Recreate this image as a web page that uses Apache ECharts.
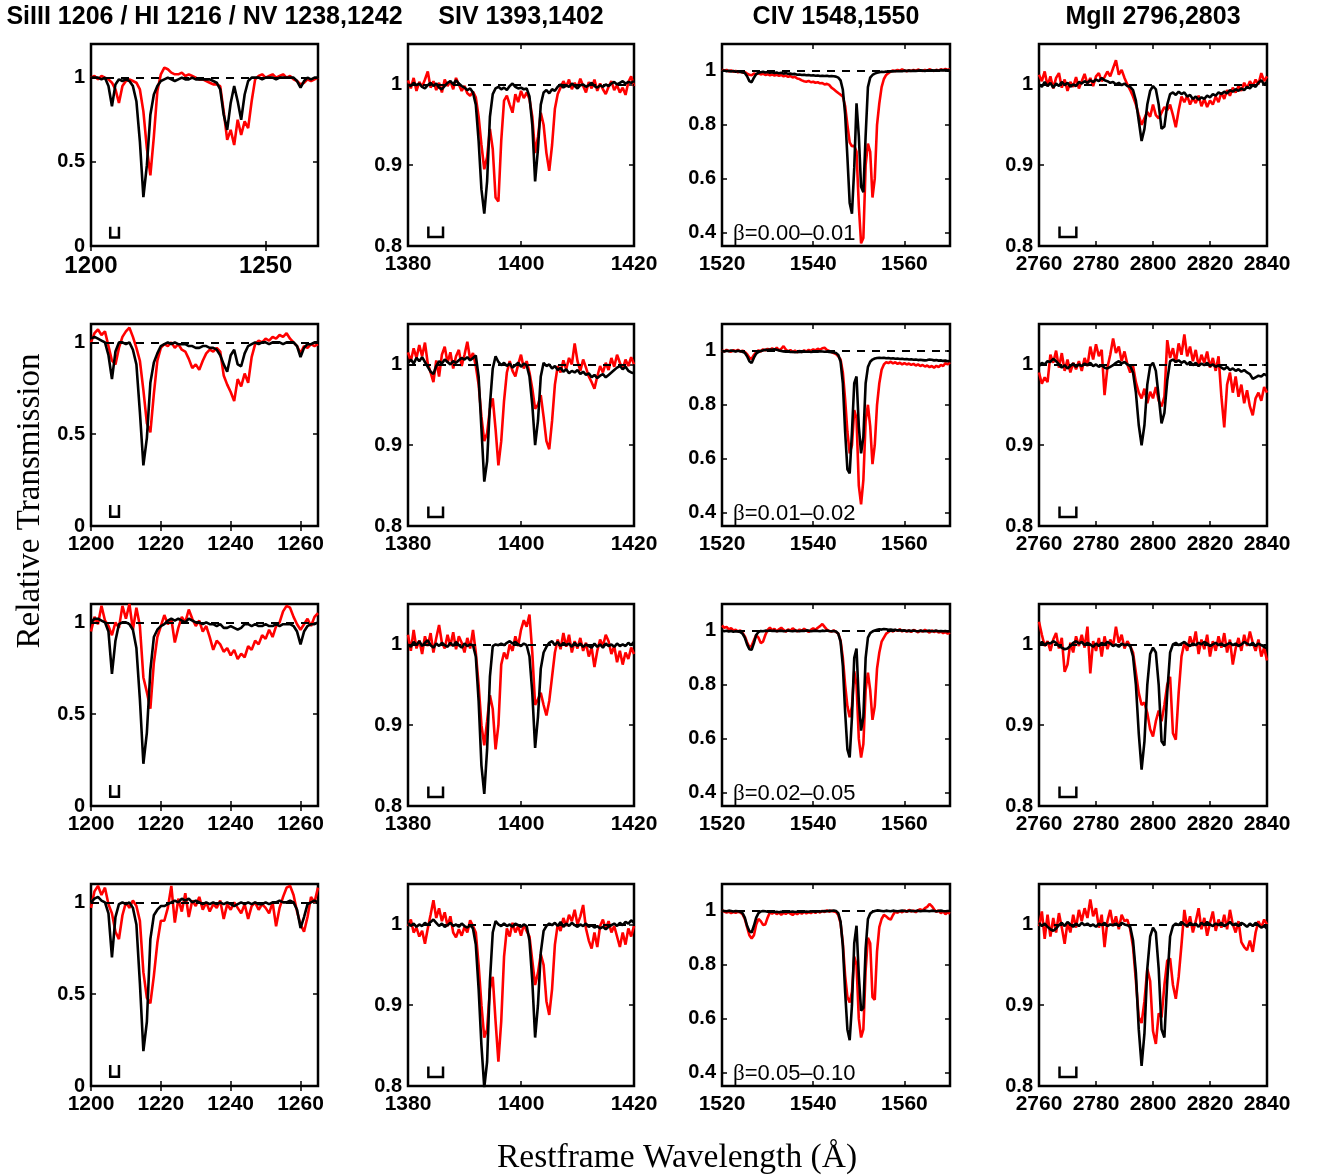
<!DOCTYPE html>
<html>
<head>
<meta charset="utf-8">
<script src="https://cdn.jsdelivr.net/npm/echarts@6/dist/echarts.min.js"></script>
<style>
  html, body { margin: 0; padding: 0; background: #fff; }
  #chart { width: 1317px; height: 1175px; }
</style>
</head>
<body>
<div id="chart"></div>
<script>
// wavelength grids (Å) of the four transitions
const SI_WAVE = wavelengths(1200, 1, 66);
const SIV_WAVE = wavelengths(1380, 0.5, 81);
const CIV_WAVE = wavelengths(1520, 0.5, 101);
const MG_WAVE = wavelengths(2760, 1, 81);

const TITLES = ['SiIII 1206 / HI 1216 / NV 1238,1242', 'SIV 1393,1402', 'CIV 1548,1550', 'MgII 2796,2803'];
const BETA_LABELS = ['0.00–0.01', '0.01–0.02', '0.02–0.05', '0.05–0.10'];

const X_RANGE = [[1200, 1265], [1380, 1420], [1520, 1570], [2760, 2840]];
const SI_YMAX = [1.2, 1.1, 1.1, 1.1];
const Y_RANGE = [[0, 1.1], [0.8, 1.05], [0.35, 1.1], [0.8, 1.05]];

const SI_XTICKS_FIRST = [1200, 1250];
const X_TICKS = [[1200, 1220, 1240, 1260], [1380, 1400, 1420], [1520, 1540, 1560], [2760, 2780, 2800, 2820, 2840]];
const Y_TICKS = [[0, 0.5, 1], [0.8, 0.9, 1], [0.4, 0.6, 0.8, 1], [0.8, 0.9, 1]];

// resolution brackets (x from-to, y from-to); CIV has none
const BRACKET_X = [[1205.5, 1208], [1383.6, 1386.2], null, [2767.2, 2773.1]];
const BRACKET_Y = [[0.05, 0.115], [0.811, 0.824], null, [0.811, 0.824]];

// ---- SiIII / HI / NV, 1200..1265 ----
const SI_BLACK_1 = [
  1.00,1.00,1.00,0.99,1.00,0.95,0.83,0.96,0.99,0.98,
  0.99,0.98,0.95,0.86,0.62,0.29,0.48,0.78,0.90,0.95,
  0.98,0.99,1.00,0.99,0.98,0.99,1.00,0.99,0.99,1.00,
  0.99,0.99,0.99,0.99,0.99,0.98,0.97,0.93,0.78,0.69,
  0.85,0.95,0.86,0.75,0.90,0.98,1.00,1.00,1.00,0.99,
  1.00,1.00,1.00,0.99,1.00,1.00,1.00,1.00,1.00,0.98,
  0.94,0.98,1.00,0.99,1.00,1.00];
const SI_RED_1 = [
  1.00,1.01,0.99,1.01,1.00,0.99,0.97,0.93,0.85,0.95,
  0.98,0.99,0.98,0.97,0.93,0.80,0.58,0.42,0.65,0.92,
  1.02,1.06,1.05,1.03,1.02,1.02,1.03,1.01,1.02,1.01,
  1.00,0.99,0.99,0.98,0.97,0.96,0.96,0.95,0.80,0.63,
  0.69,0.60,0.75,0.66,0.74,0.70,0.86,0.99,1.01,1.02,
  1.00,1.01,1.02,1.00,1.01,1.02,1.00,1.01,0.99,0.98,
  0.96,0.97,0.99,0.98,0.99,1.00];
const SI_BLACK_2 = [
  1.02,1.03,1.02,1.01,1.00,0.93,0.80,0.95,1.00,1.00,
  0.99,1.00,0.96,0.88,0.62,0.33,0.48,0.78,0.89,0.94,
  0.98,0.99,1.00,0.99,1.00,0.99,0.99,0.99,0.98,0.98,
  0.97,0.97,0.98,0.98,0.97,0.97,0.96,0.93,0.88,0.84,
  0.93,0.96,0.88,0.87,0.94,0.98,0.99,1.00,0.99,1.00,
  1.00,0.99,1.00,1.00,1.00,0.99,1.00,1.00,1.00,0.98,
  0.92,0.97,0.99,0.99,1.00,1.00];
const SI_RED_2 = [
  1.00,1.05,1.07,1.04,1.06,0.98,0.90,0.88,0.97,1.03,
  1.06,1.08,1.03,0.97,0.90,0.74,0.56,0.51,0.72,0.90,
  0.97,0.99,0.98,1.00,0.97,0.99,0.96,0.95,0.91,0.86,
  0.88,0.85,0.90,0.94,0.96,0.95,0.97,0.95,0.82,0.77,
  0.73,0.68,0.80,0.76,0.83,0.78,0.92,0.99,1.01,1.00,
  1.02,1.01,1.03,1.02,1.04,1.03,1.05,1.02,1.00,0.98,
  0.94,0.98,0.97,0.99,0.98,0.99];
const SI_BLACK_3 = [
  1.00,1.02,1.02,1.01,1.00,0.95,0.72,0.90,0.99,1.00,
  1.00,0.99,0.96,0.86,0.58,0.23,0.40,0.74,0.92,0.96,
  0.98,0.99,1.01,1.02,1.01,1.02,1.01,1.00,1.02,1.01,
  1.00,1.00,0.99,1.00,0.99,0.99,0.98,0.99,0.97,0.97,
  0.98,0.97,0.96,0.97,0.99,0.99,0.98,0.99,0.98,0.98,
  0.99,0.98,0.98,0.99,0.98,0.99,0.99,0.99,0.98,0.95,
  0.88,0.95,0.98,0.99,0.99,1.00];
const SI_RED_3 = [
  0.95,1.03,0.99,1.09,1.01,0.98,0.93,1.00,0.97,1.09,
  1.02,1.10,0.96,1.08,0.98,0.70,0.62,0.53,0.78,0.92,
  0.98,1.04,0.99,1.02,0.89,0.97,1.03,1.00,1.07,1.02,
  0.98,1.01,0.95,0.98,0.92,0.85,0.90,0.88,0.84,0.86,
  0.82,0.85,0.80,0.83,0.81,0.87,0.85,0.90,0.88,0.93,
  0.91,0.96,0.92,0.98,1.00,1.06,1.09,1.08,1.03,0.99,
  0.96,0.99,1.02,0.98,1.03,1.05];
const SI_BLACK_4 = [
  1.00,1.02,1.03,1.01,1.00,0.94,0.70,0.92,0.99,1.00,
  0.99,1.00,0.97,0.88,0.56,0.19,0.35,0.80,0.93,0.96,
  0.98,0.98,0.99,1.00,1.01,1.00,1.02,1.01,1.02,1.00,
  1.01,1.00,0.99,1.00,0.99,1.00,0.99,1.00,0.99,1.00,
  0.99,0.98,0.99,1.00,0.99,1.00,0.99,1.00,0.99,0.99,
  1.00,0.99,1.00,1.00,1.01,1.00,1.00,1.01,1.00,0.96,
  0.86,0.92,0.99,1.00,1.01,1.00];
const SI_RED_4 = [
  0.97,1.06,1.09,1.04,1.08,0.99,0.94,0.84,0.80,0.93,
  1.00,0.97,1.01,0.98,0.90,0.62,0.48,0.45,0.60,0.78,
  0.90,0.90,0.97,1.09,0.89,1.02,0.95,1.05,0.92,1.01,
  0.98,1.03,0.96,1.00,0.95,0.99,0.97,1.01,0.91,0.99,
  0.96,1.00,0.97,0.94,0.99,0.91,0.98,1.00,0.96,0.99,
  0.97,0.94,1.00,0.87,0.97,1.03,1.08,1.09,1.04,0.95,
  0.88,0.84,0.92,1.03,1.00,1.08];

// ---- SiIV, 1380..1420 ----
const SIV_BLACK_1 = [
  1.000,0.998,1.002,0.999,1.001,0.997,0.995,0.999,1.002,0.998,
  1.001,0.996,0.994,0.998,1.002,1.004,1.000,1.005,1.001,0.998,
  0.996,0.993,0.995,0.990,0.975,0.930,0.870,0.840,0.880,0.960,
  0.988,0.995,0.997,0.994,0.996,0.993,0.998,1.001,0.997,0.995,
  0.996,0.994,0.995,0.985,0.950,0.880,0.920,0.975,0.990,0.993,
  0.989,0.994,0.992,0.997,1.000,0.996,0.999,0.997,1.001,0.998,
  0.995,0.999,1.000,0.997,0.999,1.002,0.998,0.996,0.999,0.997,
  1.000,0.998,1.001,1.003,1.000,1.002,1.004,1.001,1.003,1.002,
  1.004];
const SIV_RED_1 = [
  1.005,0.995,1.008,0.992,1.003,0.997,1.006,1.016,0.996,1.004,
  0.993,1.002,0.990,1.006,0.998,1.004,0.994,1.008,1.000,0.992,
  0.998,0.989,0.986,0.991,0.984,0.960,0.925,0.895,0.910,0.945,
  0.920,0.860,0.855,0.930,0.980,0.986,0.975,0.965,0.988,0.978,
  0.992,0.983,0.990,0.982,0.960,0.915,0.935,0.965,0.950,0.915,
  0.893,0.925,0.970,0.988,0.996,1.004,0.997,1.006,0.994,1.002,
  0.996,1.007,0.998,0.990,1.003,0.995,1.006,0.992,1.001,0.994,
  0.988,0.997,1.004,0.993,0.999,0.990,0.996,0.987,1.003,1.010,
  0.998];
const SIV_BLACK_2 = [
  1.002,1.006,1.001,1.008,1.004,1.009,1.003,0.997,0.991,0.988,
  0.998,1.004,1.001,1.006,1.003,1.000,1.004,1.002,1.005,1.008,
  1.006,1.009,1.005,1.008,1.011,0.985,0.920,0.855,0.880,0.950,
  0.995,1.010,1.003,0.999,1.002,0.998,1.001,0.996,0.999,1.002,
  0.997,1.001,0.999,0.985,0.950,0.900,0.930,0.985,1.002,0.998,
  1.000,0.995,0.998,0.993,0.996,0.991,0.994,0.989,0.992,0.990,
  0.993,0.988,0.991,0.987,0.989,0.984,0.987,0.983,0.986,0.988,
  0.984,0.987,0.990,0.993,0.996,0.998,0.994,0.997,0.992,0.990,
  0.989];
const SIV_RED_2 = [
  1.015,1.004,1.020,1.008,1.024,1.010,1.027,1.001,0.990,0.978,
  1.005,0.985,1.012,1.022,1.002,1.015,0.995,1.010,1.018,0.998,
  1.012,1.028,1.006,1.014,0.998,0.975,0.935,0.905,0.915,0.945,
  0.958,0.920,0.875,0.905,0.955,0.990,1.004,0.992,0.985,1.000,
  1.012,0.995,1.004,0.990,0.970,0.945,0.950,0.962,0.935,0.905,
  0.895,0.930,0.975,0.998,0.990,1.005,0.994,1.008,1.000,1.026,
  1.004,0.992,1.006,0.996,0.985,0.978,0.970,0.985,0.998,0.990,
  1.002,0.993,1.008,0.997,1.012,1.002,0.994,1.006,0.998,1.009,
  1.000];
const SIV_BLACK_3 = [
  1.000,0.997,1.003,0.999,1.004,0.998,1.002,1.005,0.999,0.996,
  1.001,0.998,1.002,0.999,0.997,1.002,0.998,1.003,0.999,0.996,
  1.001,0.998,1.000,0.999,0.985,0.930,0.850,0.815,0.870,0.960,
  0.998,1.000,0.999,1.001,0.999,1.002,1.004,1.001,1.003,1.000,
  0.998,1.001,0.999,0.985,0.940,0.872,0.910,0.970,0.990,0.997,
  1.002,1.004,0.999,1.003,0.998,1.002,0.999,1.001,0.997,1.002,
  0.998,1.001,0.997,1.000,0.998,0.996,1.001,0.997,1.000,0.996,
  1.001,0.998,1.000,0.997,1.001,0.998,1.000,0.998,1.002,0.999,
  1.003];
const SIV_RED_3 = [
  1.012,0.992,1.018,0.995,1.005,0.988,1.010,0.998,1.014,0.990,
  1.008,1.024,1.002,0.995,1.012,0.998,1.015,0.994,1.010,1.002,
  0.990,1.008,0.995,1.018,0.990,0.950,0.900,0.875,0.905,0.937,
  0.920,0.870,0.900,0.975,0.990,0.982,1.000,0.992,1.010,0.998,
  1.018,1.030,1.022,1.037,0.990,0.925,0.932,0.940,0.925,0.912,
  0.930,0.960,0.990,1.006,0.994,1.014,0.997,1.012,0.990,1.004,
  0.995,1.008,0.992,1.002,0.985,0.996,0.972,0.992,1.006,0.998,
  1.012,1.004,0.988,0.998,0.978,0.992,0.975,0.990,0.982,0.996,
  0.988];
const SIV_BLACK_4 = [
  1.002,0.998,1.001,0.997,1.000,0.998,1.002,0.999,1.003,1.006,
  1.002,0.998,1.001,0.997,0.999,1.002,0.998,1.000,0.997,1.001,
  0.998,0.996,0.999,0.995,0.975,0.920,0.850,0.798,0.830,0.930,
  0.990,1.004,1.000,0.998,1.001,0.998,1.000,0.997,1.001,0.999,
  0.997,1.000,0.998,0.980,0.930,0.860,0.900,0.965,0.992,0.998,
  1.001,0.999,1.002,0.998,1.003,0.997,1.001,0.998,1.002,0.999,
  0.997,1.000,0.998,1.001,0.997,0.999,0.996,0.998,0.995,0.997,
  0.994,0.997,0.999,1.001,0.998,1.002,0.999,1.003,1.001,1.005,
  1.002];
const SIV_RED_4 = [
  0.998,1.006,0.990,0.996,0.985,0.992,0.976,0.995,1.012,1.030,
  1.008,1.020,1.004,1.015,0.998,1.010,0.990,0.984,0.994,0.986,
  0.997,0.990,1.005,0.998,0.990,0.950,0.900,0.860,0.870,0.920,
  0.935,0.880,0.830,0.880,0.960,0.995,0.985,1.002,0.990,0.998,
  0.986,1.000,0.992,0.985,0.955,0.925,0.940,0.963,0.950,0.905,
  0.888,0.920,0.975,1.000,0.992,1.008,0.998,1.012,1.004,1.018,
  1.000,1.010,1.024,0.995,0.980,0.970,0.990,0.972,0.998,1.006,
  0.994,1.004,0.990,0.998,0.985,0.972,0.990,0.975,0.995,0.985,
  0.998];

// ---- CIV, 1520..1570 ----
const CIV_BLACK_1 = [
  1.000,1.002,0.999,1.001,0.998,1.000,0.997,0.999,0.996,0.995,
  0.992,0.980,0.962,0.958,0.975,0.988,0.993,0.995,0.997,0.994,
  0.996,0.993,0.995,0.992,0.994,0.991,0.993,0.990,0.992,0.989,
  0.990,0.988,0.989,0.986,0.987,0.985,0.986,0.984,0.985,0.983,
  0.984,0.982,0.983,0.981,0.982,0.981,0.982,0.980,0.981,0.980,
  0.979,0.975,0.965,0.930,0.840,0.680,0.510,0.470,0.640,0.880,
  0.760,0.570,0.550,0.760,0.940,0.975,0.985,0.990,0.993,0.995,
  0.997,0.996,0.998,0.997,0.999,0.998,1.000,0.999,1.000,0.999,
  1.001,1.000,1.001,1.000,1.001,1.000,1.001,1.002,1.001,1.000,
  1.002,1.001,1.002,1.001,1.002,1.001,1.003,1.002,1.003,1.002,
  1.003];
const CIV_RED_1 = [
  1.005,1.000,1.004,0.998,1.002,0.997,1.000,0.995,0.998,0.994,
  0.996,0.990,0.986,0.984,0.990,0.988,0.991,0.987,0.990,0.985,
  0.988,0.984,0.987,0.983,0.986,0.982,0.985,0.980,0.983,0.978,
  0.981,0.976,0.978,0.972,0.970,0.965,0.962,0.960,0.963,0.958,
  0.960,0.956,0.958,0.954,0.955,0.950,0.952,0.948,0.938,0.932,
  0.925,0.918,0.912,0.905,0.870,0.800,0.735,0.720,0.722,0.700,
  0.500,0.360,0.380,0.650,0.730,0.700,0.530,0.600,0.800,0.880,
  0.940,0.970,0.985,0.992,0.998,1.002,0.999,1.004,1.000,1.006,
  1.002,0.999,1.003,1.000,1.004,1.001,1.005,1.002,1.000,1.004,
  1.001,1.006,1.003,1.000,1.004,1.002,1.006,1.003,1.007,1.004,
  1.006];
const CIV_BLACK_2 = [
  1.000,0.998,1.001,0.999,1.002,1.000,0.998,1.001,0.999,0.997,
  0.993,0.980,0.962,0.955,0.975,0.990,0.996,1.000,1.002,1.004,
  1.003,1.005,1.004,1.006,1.004,1.002,1.000,0.998,0.997,0.998,
  0.996,0.997,0.995,0.996,0.997,0.996,0.998,0.997,0.998,0.996,
  0.997,0.998,0.997,0.999,0.998,0.997,0.998,0.996,0.995,0.994,
  0.992,0.985,0.960,0.880,0.700,0.560,0.545,0.700,0.880,0.905,
  0.720,0.620,0.680,0.880,0.940,0.960,0.968,0.972,0.974,0.975,
  0.974,0.975,0.973,0.974,0.972,0.973,0.971,0.972,0.970,0.971,
  0.969,0.970,0.968,0.969,0.967,0.968,0.966,0.967,0.966,0.965,
  0.966,0.968,0.967,0.965,0.966,0.964,0.965,0.963,0.964,0.962,
  0.963];
const CIV_RED_2 = [
  1.002,0.998,1.004,1.000,0.997,1.003,0.999,1.004,0.998,1.001,
  0.996,0.988,0.975,0.970,0.985,0.996,1.002,0.998,1.006,1.002,
  1.008,1.003,1.010,1.004,1.012,1.002,1.008,1.018,1.005,0.998,
  1.003,0.996,1.001,0.995,1.000,0.996,1.002,0.998,1.004,1.000,
  1.006,1.002,1.008,1.004,1.010,1.012,1.004,1.000,0.996,0.992,
  0.988,0.980,0.968,0.920,0.820,0.700,0.620,0.650,0.780,0.750,
  0.500,0.430,0.520,0.740,0.800,0.720,0.580,0.650,0.800,0.880,
  0.930,0.950,0.958,0.955,0.960,0.954,0.958,0.952,0.956,0.950,
  0.955,0.950,0.953,0.948,0.952,0.946,0.950,0.944,0.948,0.942,
  0.946,0.940,0.944,0.938,0.945,0.940,0.948,0.944,0.955,0.950,
  0.958];
const CIV_BLACK_3 = [
  1.002,0.999,1.001,0.998,1.000,0.997,0.999,0.998,0.996,0.990,
  0.975,0.950,0.932,0.930,0.955,0.985,0.996,1.000,0.999,1.001,
  1.000,1.002,1.000,1.001,0.999,1.000,1.001,0.999,1.000,1.002,
  1.000,0.999,1.001,1.000,0.999,1.001,1.000,1.002,1.001,0.999,
  1.000,1.001,1.000,0.999,1.001,1.000,1.002,1.000,0.999,1.000,
  0.998,0.990,0.960,0.870,0.700,0.560,0.530,0.680,0.900,0.935,
  0.740,0.630,0.680,0.900,0.975,0.992,0.998,1.002,1.004,1.006,
  1.005,1.007,1.006,1.004,1.005,1.003,1.004,1.002,1.003,1.001,
  1.002,1.000,1.001,1.000,1.002,1.000,0.999,1.001,1.000,0.999,
  1.000,1.001,0.999,1.000,1.001,0.999,1.000,0.999,1.000,0.998,
  0.999];
const CIV_RED_3 = [
  1.020,1.012,1.015,1.006,1.010,1.002,1.004,0.998,1.002,0.994,
  0.980,0.958,0.940,0.945,0.965,0.985,0.975,0.955,0.960,0.985,
  1.004,1.012,1.002,1.008,0.998,1.006,1.012,1.004,0.997,1.006,
  1.000,1.010,1.003,0.998,1.005,1.000,1.008,1.002,0.996,1.004,
  1.010,1.004,1.012,1.018,1.026,1.015,1.005,1.000,0.998,1.002,
  0.996,0.990,0.965,0.900,0.800,0.720,0.680,0.720,0.850,0.800,
  0.600,0.530,0.580,0.780,0.845,0.780,0.670,0.720,0.860,0.920,
  0.960,0.975,0.990,0.996,1.002,0.998,1.004,1.000,1.006,0.998,
  1.003,0.997,1.002,0.996,1.004,1.000,0.995,1.002,0.997,1.004,
  0.999,0.994,1.002,0.996,1.001,0.994,0.998,0.992,0.996,0.990,
  0.994];
const CIV_BLACK_4 = [
  1.001,1.000,0.999,1.001,1.000,0.998,1.000,0.999,0.997,0.992,
  0.975,0.945,0.925,0.920,0.945,0.975,0.992,0.998,1.000,0.999,
  0.997,0.996,0.998,0.996,0.997,0.995,0.997,0.996,0.998,0.996,
  0.997,0.998,0.996,0.997,0.998,0.996,0.997,0.998,0.997,0.999,
  0.998,0.997,0.999,0.998,0.999,1.000,0.999,1.001,1.000,1.002,
  1.000,0.992,0.960,0.870,0.700,0.560,0.520,0.650,0.880,0.945,
  0.760,0.630,0.640,0.860,0.970,0.990,0.997,1.000,1.002,1.001,
  1.000,0.999,1.001,1.000,0.999,1.001,1.000,0.999,1.000,1.001,
  1.000,0.999,1.000,1.001,0.999,1.000,1.001,0.999,1.000,1.001,
  1.000,0.999,1.001,1.000,0.999,1.000,1.001,1.000,0.999,1.000,
  1.000];
const CIV_RED_4 = [
  1.002,0.998,0.994,0.997,0.992,0.996,0.993,0.997,0.994,0.988,
  0.970,0.940,0.910,0.898,0.910,0.950,0.970,0.962,0.948,0.950,
  0.975,0.995,0.990,0.996,0.988,0.994,0.986,0.993,0.989,0.996,
  0.990,0.985,0.993,0.988,0.995,0.990,0.997,0.991,0.996,0.992,
  0.998,0.993,0.999,0.994,1.000,0.996,1.002,0.997,1.001,0.998,
  0.996,0.985,0.955,0.880,0.760,0.680,0.660,0.700,0.830,0.800,
  0.600,0.530,0.560,0.780,0.900,0.880,0.680,0.670,0.850,0.940,
  0.970,0.985,0.980,0.972,0.968,0.985,0.998,0.993,1.000,0.995,
  1.002,0.996,1.004,0.998,1.002,0.995,1.003,1.006,1.002,1.010,
  1.015,1.026,1.018,1.006,0.996,1.002,0.992,0.998,0.988,0.995,
  0.990];

// ---- MgII, 2760..2840 ----
const MG_BLACK_1 = [
  1.000,0.997,1.003,0.998,1.002,0.996,1.001,0.998,1.003,0.999,
  1.002,0.997,1.000,0.998,1.003,1.001,1.004,1.002,1.005,1.003,
  1.006,1.004,1.008,1.005,1.004,1.002,1.003,1.000,1.002,0.999,
  1.001,0.998,0.997,0.993,0.980,0.955,0.930,0.945,0.975,0.992,
  0.998,0.994,0.975,0.945,0.948,0.975,0.988,0.990,0.987,0.991,
  0.988,0.990,0.985,0.987,0.982,0.985,0.981,0.984,0.982,0.986,
  0.984,0.988,0.986,0.990,0.988,0.991,0.989,0.993,0.991,0.994,
  0.992,0.995,0.993,0.997,0.995,0.999,0.997,1.002,1.005,1.000,
  1.003];
const MG_RED_1 = [
  1.012,1.004,1.016,0.998,1.010,0.995,1.008,1.014,0.996,1.006,
  0.992,1.003,0.997,1.009,0.995,1.004,1.013,1.000,1.008,0.998,
  1.010,1.014,1.004,1.009,1.016,1.010,1.020,1.030,1.012,1.018,
  1.008,1.000,0.993,0.985,0.975,0.962,0.950,0.958,0.966,0.960,
  0.975,0.962,0.958,0.965,0.972,0.968,0.975,0.962,0.947,0.968,
  0.985,0.978,0.986,0.975,0.983,0.977,0.986,0.973,0.982,0.972,
  0.980,0.975,0.985,0.978,0.990,0.982,0.993,0.986,0.996,0.990,
  0.998,0.992,1.002,0.995,1.004,0.998,1.006,1.000,1.014,1.004,
  1.010];
const MG_BLACK_2 = [
  0.998,1.002,1.000,1.004,1.003,1.007,1.004,1.000,0.996,0.999,
  0.995,0.998,1.001,0.997,1.000,0.998,1.001,0.999,1.002,0.998,
  1.000,0.997,0.999,0.996,0.995,0.997,0.999,1.002,1.004,1.001,
  1.003,1.000,0.998,0.990,0.965,0.925,0.900,0.925,0.975,0.998,
  1.002,0.992,0.960,0.927,0.940,0.980,1.004,1.006,1.003,1.005,
  1.002,1.004,1.000,1.003,0.999,1.002,0.998,1.001,0.999,1.002,
  0.998,1.000,0.997,0.999,0.996,0.994,0.997,0.993,0.995,0.992,
  0.994,0.991,0.993,0.990,0.988,0.982,0.984,0.986,0.985,0.988,
  0.986];
const MG_RED_2 = [
  0.990,0.976,0.984,0.978,1.012,1.002,1.017,0.996,1.014,0.992,
  1.006,0.990,1.002,0.994,1.004,0.992,1.008,0.998,1.022,1.006,
  1.025,1.010,1.018,0.962,0.996,1.012,1.032,1.014,1.022,1.004,
  1.016,1.000,0.990,0.998,0.978,0.965,0.958,0.970,0.952,0.966,
  0.958,0.972,0.955,0.948,0.960,1.030,1.008,1.020,1.002,1.026,
  1.012,1.037,1.010,1.022,1.004,1.018,0.998,1.012,1.002,1.016,
  0.996,1.008,0.992,1.010,0.960,0.922,0.975,0.990,0.965,0.985,
  0.960,0.975,0.952,0.968,0.948,0.937,0.958,0.965,0.955,0.972,
  0.965];
const MG_BLACK_3 = [
  1.000,1.003,0.999,1.002,1.001,1.004,1.002,0.998,0.996,0.994,
  0.995,0.998,1.002,1.004,1.001,1.003,0.999,1.002,1.000,0.997,
  1.001,0.998,1.002,1.000,1.003,1.001,0.998,1.000,0.997,1.001,
  0.999,1.000,0.998,0.985,0.950,0.890,0.845,0.880,0.950,0.988,
  0.996,0.990,0.950,0.880,0.875,0.940,0.990,1.000,1.002,0.999,
  1.001,1.003,1.000,0.998,1.001,0.999,1.002,1.000,1.003,1.001,
  0.998,1.000,1.002,0.999,1.001,0.998,1.000,1.002,0.999,1.001,
  0.998,1.000,1.003,1.001,0.999,1.002,0.998,1.001,0.999,0.997,
  0.995];
const MG_RED_3 = [
  1.028,1.012,0.998,1.004,0.992,1.006,1.014,0.995,1.008,0.966,
  0.975,1.002,0.990,1.010,0.998,1.012,0.996,1.022,0.964,1.004,
  0.992,1.008,0.985,1.010,0.994,1.006,0.998,1.022,1.002,1.012,
  0.995,1.004,0.998,0.990,0.965,0.940,0.925,0.928,0.915,0.895,
  0.886,0.905,0.918,0.905,0.925,0.950,0.960,0.890,0.882,0.940,
  0.985,1.002,0.992,1.010,0.998,1.016,0.988,1.006,0.994,1.012,
  0.985,1.004,0.992,1.010,0.996,1.014,0.990,1.006,0.975,0.995,
  1.008,0.992,1.012,0.998,1.016,1.002,0.992,1.006,0.985,0.996,
  0.980];
const MG_BLACK_4 = [
  1.002,0.998,1.001,0.997,0.994,0.992,0.995,0.999,1.002,0.998,
  1.003,1.000,0.997,1.001,0.998,1.002,0.999,1.001,0.998,1.000,
  0.997,1.001,0.999,1.002,0.998,1.000,0.999,1.001,0.998,1.002,
  1.000,0.999,0.997,0.980,0.940,0.870,0.825,0.865,0.945,0.985,
  0.996,0.990,0.945,0.870,0.860,0.930,0.985,0.998,1.001,0.999,
  1.003,1.000,0.998,1.002,0.999,1.001,0.997,1.002,0.999,1.003,
  1.000,0.998,1.001,0.999,1.002,0.998,1.000,1.003,0.999,1.001,
  0.998,1.002,1.000,0.997,1.001,0.998,1.002,0.999,0.996,0.998,
  0.995];
const MG_RED_4 = [
  0.998,1.016,0.982,1.012,0.985,1.008,0.990,1.014,0.996,0.976,
  1.002,0.990,1.012,0.996,1.018,1.004,1.020,1.008,1.031,1.010,
  1.020,0.996,1.012,0.972,1.004,1.018,0.998,1.010,0.994,1.012,
  1.004,1.006,0.994,0.972,0.930,0.885,0.878,0.905,0.945,0.930,
  0.868,0.852,0.890,0.885,0.925,0.955,0.958,0.925,0.908,0.935,
  0.975,1.018,0.996,1.010,0.990,1.004,1.020,0.994,1.008,0.986,
  1.002,1.016,0.992,1.006,0.996,1.012,0.994,1.018,1.000,0.990,
  1.004,0.978,0.972,0.968,0.980,0.966,0.990,1.004,0.996,1.006,
  1.000];

function wavelengths(start, step, n) {
  const out = [];
  for (let i = 0; i < n; i++) out.push(+(start + i * step).toFixed(2));
  return out;
}

const WAVES = [SI_WAVE, SIV_WAVE, CIV_WAVE, MG_WAVE];
const BLACK = [
  [SI_BLACK_1, SIV_BLACK_1, CIV_BLACK_1, MG_BLACK_1],
  [SI_BLACK_2, SIV_BLACK_2, CIV_BLACK_2, MG_BLACK_2],
  [SI_BLACK_3, SIV_BLACK_3, CIV_BLACK_3, MG_BLACK_3],
  [SI_BLACK_4, SIV_BLACK_4, CIV_BLACK_4, MG_BLACK_4]
];
const RED = [
  [SI_RED_1, SIV_RED_1, CIV_RED_1, MG_RED_1],
  [SI_RED_2, SIV_RED_2, CIV_RED_2, MG_RED_2],
  [SI_RED_3, SIV_RED_3, CIV_RED_3, MG_RED_3],
  [SI_RED_4, SIV_RED_4, CIV_RED_4, MG_RED_4]
];

// layout
const COL_LEFT = [91, 408, 722, 1039];
const COL_WIDTH = [227, 226, 228, 228];
const ROW_TOP = [44, 324, 604, 884];
const PANEL_H = 202;
const SANS = '"Liberation Sans", Arial, sans-serif';
const SERIF = '"Liberation Serif", "Times New Roman", serif';

function zip(xs, ys) {
  return xs.map((x, i) => [x, ys[i]]);
}

const chart = echarts.init(document.getElementById('chart'), null, { renderer: 'canvas' });

const grids = [], xAxes = [], yAxes = [], series = [], graphics = [];

const tick = (values) => ({
  inside: true, length: 5, customValues: values,
  lineStyle: { color: '#000', width: 1.5 }
});
const plain = (v) => String(v);

for (let r = 0; r < 4; r++) {
  for (let c = 0; c < 4; c++) {
    const g = grids.length;
    grids.push({
      left: COL_LEFT[c], top: ROW_TOP[r], width: COL_WIDTH[c], height: PANEL_H,
      show: true, borderColor: '#000', borderWidth: 2.5, backgroundColor: 'transparent',
      containLabel: false, outerBoundsMode: 'none'
    });
    const xt = (c === 0 && r === 0) ? SI_XTICKS_FIRST : X_TICKS[c];
    const ymin = Y_RANGE[c][0];
    const ymax = c === 0 ? SI_YMAX[r] : Y_RANGE[c][1];
    const xSize = (c === 0 && r === 0) ? 24 : 21;

    xAxes.push({
      gridIndex: g, type: 'value', position: 'bottom',
      min: X_RANGE[c][0], max: X_RANGE[c][1],
      axisLine: { show: false }, splitLine: { show: false },
      axisTick: tick(xt),
      axisLabel: {
        customValues: xt, margin: 8, color: '#000', formatter: plain,
        fontFamily: SANS, fontWeight: 'bold', fontSize: xSize
      }
    });
    xAxes.push({
      gridIndex: g, type: 'value', position: 'top',
      min: X_RANGE[c][0], max: X_RANGE[c][1],
      axisLine: { show: false }, splitLine: { show: false },
      axisTick: tick(xt), axisLabel: { show: false }
    });
    yAxes.push({
      gridIndex: g, type: 'value', position: 'left',
      min: ymin, max: ymax,
      axisLine: { show: false }, splitLine: { show: false },
      axisTick: tick(Y_TICKS[c]),
      axisLabel: {
        customValues: Y_TICKS[c], margin: 6, color: '#000', formatter: plain,
        fontFamily: SANS, fontWeight: 'bold', fontSize: 20
      }
    });
    yAxes.push({
      gridIndex: g, type: 'value', position: 'right',
      min: ymin, max: ymax,
      axisLine: { show: false }, splitLine: { show: false },
      axisTick: tick(Y_TICKS[c]), axisLabel: { show: false }
    });

    const xi = 2 * g, yi = 2 * g;
    series.push({
      type: 'line', xAxisIndex: xi, yAxisIndex: yi,
      data: zip(WAVES[c], RED[r][c]),
      showSymbol: false, symbol: 'none', clip: true, silent: true, z: 2,
      lineStyle: { color: '#ff0000', width: 2.6 },
      markLine: {
        silent: true, symbol: ['none', 'none'], label: { show: false },
        lineStyle: { color: '#000', type: [8, 7], width: 2 },
        data: [{ yAxis: 1 }], animation: false
      }
    });
    series.push({
      type: 'line', xAxisIndex: xi, yAxisIndex: yi,
      data: zip(WAVES[c], BLACK[r][c]),
      showSymbol: false, symbol: 'none', clip: true, silent: true, z: 3,
      lineStyle: { color: '#000', width: 2.6 }
    });
    if (BRACKET_X[c]) {
      const bx = BRACKET_X[c], by = BRACKET_Y[c];
      series.push({
        type: 'line', xAxisIndex: xi, yAxisIndex: yi,
        data: [[bx[0], by[1]], [bx[0], by[0]], [bx[1], by[0]], [bx[1], by[1]]],
        showSymbol: false, symbol: 'none', silent: true, z: 4,
        lineStyle: { color: '#000', width: 2.5, join: 'miter' }
      });
    }
    if (c === 2) {
      graphics.push({
        type: 'text', x: COL_LEFT[c] + 11, y: ROW_TOP[r] + 190, silent: true,
        style: {
          text: '{g|β}=' + BETA_LABELS[r],
          rich: { g: { fontFamily: SERIF, fontSize: 23, fill: '#000' } },
          fill: '#000', font: '22px ' + SANS,
          textAlign: 'left', textVerticalAlign: 'middle', align: 'left', verticalAlign: 'middle'
        }
      });
    }
  }
}

// column titles
for (let c = 0; c < 4; c++) {
  graphics.push({
    type: 'text', x: COL_LEFT[c] + COL_WIDTH[c] / 2, y: 17, silent: true,
    style: {
      text: TITLES[c], fill: '#000', font: 'bold 25px ' + SANS,
      textAlign: 'center', textVerticalAlign: 'middle', align: 'center', verticalAlign: 'middle'
    }
  });
}

// axis titles
graphics.push({
  type: 'text', x: 30, y: 501, rotation: Math.PI / 2, silent: true,
  style: {
    text: 'Relative Transmission', fill: '#000', font: '33px ' + SERIF,
    textAlign: 'center', textVerticalAlign: 'middle', align: 'center', verticalAlign: 'middle'
  }
});
graphics.push({
  type: 'text', x: 677, y: 1158, silent: true,
  style: {
    text: 'Restframe Wavelength (Å)', fill: '#000', font: '33.5px ' + SERIF,
    textAlign: 'center', textVerticalAlign: 'middle', align: 'center', verticalAlign: 'middle'
  }
});

chart.setOption({
  animation: false,
  backgroundColor: '#fff',
  grid: grids,
  xAxis: xAxes,
  yAxis: yAxes,
  series: series,
  graphic: graphics
});
</script>
</body>
</html>
